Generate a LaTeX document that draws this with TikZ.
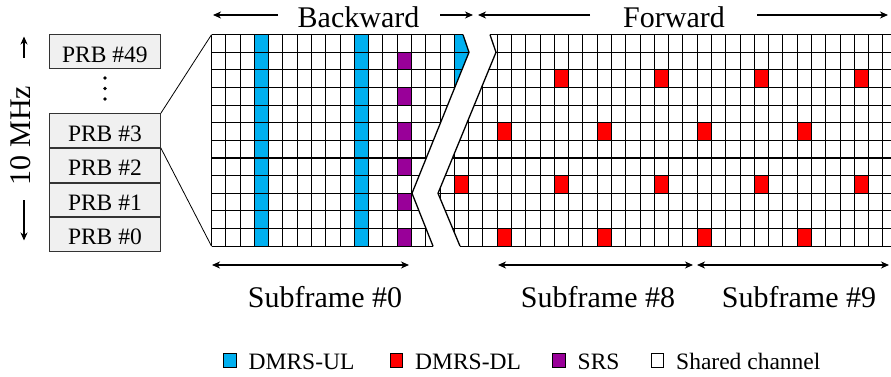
\documentclass[tikz,border=0pt]{standalone}
\usepackage{fontspec}
\setmainfont{Liberation Serif}
\usetikzlibrary{arrows.meta}
\definecolor{ulblue}{HTML}{00B0F0}
\definecolor{dlred}{HTML}{FF0000}
\definecolor{srspurple}{HTML}{990099}
\definecolor{prbgray}{HTML}{F0F0F0}
% resource grid geometry (pt, y grows downwards)
\def\gxo{211.5}
\def\gw{14.2857}
\def\gyo{34.7}
\def\gh{17.62}
\newcommand\cellgrid{%
  \foreach \c in {0,...,48}
    \draw[cellline] ({\gxo+\c*\gw},\gyo) -- ({\gxo+\c*\gw},{\gyo+12*\gh});
  \foreach \r in {0,...,12}
    \draw[cellline] (\gxo,{\gyo+\r*\gh}) -- ({\gxo+48*\gw},{\gyo+\r*\gh});
}
\begin{document}
\begin{tikzpicture}[x=1pt,y=-1pt,
  bigtxt/.style={font=\fontsize{30}{36}\selectfont, inner sep=0pt},
  smalltxt/.style={font=\fontsize{23.5}{28}\selectfont, inner sep=0pt},
  prbbox/.style={draw=black!80, line width=0.8pt, fill=prbgray,
    minimum width=111pt, minimum height=33.8pt, text height=21pt,
    text depth=0pt, inner sep=0pt, anchor=north west, smalltxt},
  cellline/.style={line width=1.1pt, draw=black},
  cutline/.style={line width=1.3pt, line join=miter},
  thinlink/.style={line width=0.8pt},
  spanarrow/.style={line width=1.2pt,
    {Stealth[length=8pt,width=7pt,inset=2.5pt]}-{Stealth[length=8pt,width=7pt,inset=2.5pt]}},
  onearrow/.style={line width=1.2pt, -{Stealth[length=8pt,width=7pt,inset=2.5pt]}},
  legbox/.style={draw=black, line width=0.9pt},
]
\useasboundingbox (0,0) rectangle (891,377);
\clip (0,0) rectangle (891,377);

% ---- backward part of the grid (subframe #0 and start of #1)
\begin{scope}
  \clip (205,28) -- (460.7,28) -- (469,52.3) -- (412,193.3) -- (435.7,253) -- (205,253) -- cycle;
  \foreach \c in {3,10,17}
    \fill[ulblue] ({\gxo+\c*\gw},\gyo) rectangle ++({\gw},{12*\gh});
  \foreach \r in {1,3,5,7,9,11}
    \fill[srspurple] ({\gxo+13*\gw},{\gyo+\r*\gh}) rectangle ++({\gw},{\gh});
  \cellgrid
\end{scope}

% ---- forward part of the grid (subframes #8 and #9)
\begin{scope}
  \clip (487.7,28) -- (900,28) -- (900,253) -- (462.8,253) -- (438,193.3) -- (496,52.3) -- cycle;
  \foreach \c/\r in {17/8,20/5,20/11,24/2,24/8,27/5,27/11,31/2,31/8,
                     34/5,34/11,38/2,38/8,41/5,41/11,45/2,45/8}
    \fill[dlred] ({\gxo+\c*\gw},{\gyo+\r*\gh}) rectangle ++({\gw},{\gh});
  \cellgrid
\end{scope}

% ---- break between the two parts
\draw[cutline] (463,34.7) -- (469,52.3) -- (412,193.3) -- (433,246.1);
\draw[cutline] (490,34.7) -- (496,52.3) -- (438,193.3) -- (460,246.1);

% ---- PRB column
\node[prbbox] (prb49) at (49,34.3) {PRB \#49};
\node[prbbox] (prb3) at (49,113.3) {PRB \#3};
\node[prbbox] (prb2) at (prb3.south west) {PRB \#2};
\node[prbbox] (prb1) at (prb2.south west) {PRB \#1};
\node[prbbox] (prb0) at (prb1.south west) {PRB \#0};
\foreach \yy in {78,88.5,99}
  \fill (105,\yy) circle[radius=1.8pt];

\coordinate (gridNW) at (\gxo,\gyo);
\coordinate (gridSW) at (\gxo,{\gyo+12*\gh});
\draw[thinlink] (prb3.north east) -- (gridNW);
\draw[thinlink] (prb3.south east) -- (gridSW);

% ---- bandwidth label
\node[bigtxt, rotate=90] (bwlabel) at (21,135.5) {10 MHz};
\coordinate (bwUpFrom) at (24,58);
\coordinate (bwUpTo) at (24,36.5);
\coordinate (bwDnFrom) at (24,200);
\coordinate (bwDnTo) at (24,240.5);
\draw[onearrow] (bwUpFrom) -- (bwUpTo);
\draw[onearrow] (bwDnFrom) -- (bwDnTo);

% ---- direction labels
\node[bigtxt, anchor=base] (backward) at (358.5,27.3) {Backward};
\node[bigtxt, anchor=base] (forward) at (674,27.3) {Forward};
\coordinate (bkA0) at (278,15); \coordinate (bkA1) at (213,15);
\coordinate (bkB0) at (440,15); \coordinate (bkB1) at (473,15);
\coordinate (fwA0) at (590,15); \coordinate (fwA1) at (478,15);
\coordinate (fwB0) at (757,15); \coordinate (fwB1) at (888,15);
\draw[onearrow] (bkA0) -- (bkA1);
\draw[onearrow] (bkB0) -- (bkB1);
\draw[onearrow] (fwA0) -- (fwA1);
\draw[onearrow] (fwB0) -- (fwB1);

% ---- subframe spans
\coordinate (sf0L) at (212,265); \coordinate (sf0R) at (409,265);
\coordinate (sf8L) at (498,265); \coordinate (sf8R) at (693,265);
\coordinate (sf9L) at (697,265); \coordinate (sf9R) at (889,265);
\draw[spanarrow] (sf0L) -- (sf0R);
\draw[spanarrow] (sf8L) -- (sf8R);
\draw[spanarrow] (sf9L) -- (sf9R);
\node[bigtxt, anchor=base] (sf0) at (325,307) {Subframe \#0};
\node[bigtxt, anchor=base] (sf8) at (598,307) {Subframe \#8};
\node[bigtxt, anchor=base] (sf9) at (799,307) {Subframe \#9};

% ---- legend
\def\lgb{369}
\draw[legbox, fill=ulblue]    (223.5,{\lgb-16}) rectangle ++(12.5,14.5);
\draw[legbox, fill=dlred]     (390,{\lgb-16})   rectangle ++(12.5,14.5);
\draw[legbox, fill=srspurple] (552.5,{\lgb-16}) rectangle ++(12.5,14.5);
\draw[legbox, fill=white]     (651,{\lgb-16})   rectangle ++(12.5,14.5);
\node[smalltxt, anchor=base west] (lgul) at (248.5,\lgb) {DMRS-UL};
\node[smalltxt, anchor=base west] (lgdl) at (415,\lgb) {DMRS-DL};
\node[smalltxt, anchor=base west] (lgsrs) at (577.5,\lgb) {SRS};
\node[smalltxt, anchor=base west] (lgsh) at (676,\lgb) {Shared channel};
\end{tikzpicture}
\end{document}
